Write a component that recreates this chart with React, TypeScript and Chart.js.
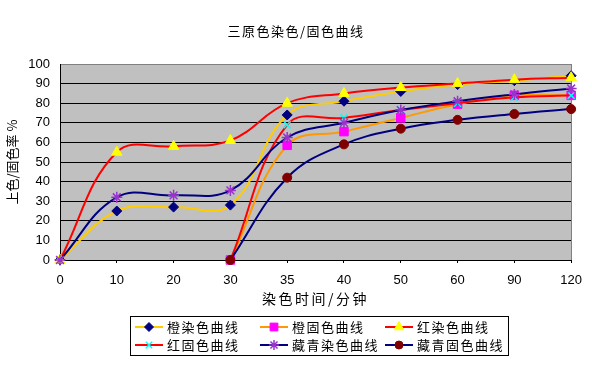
import React, { useEffect, useRef } from 'react';
import { Chart, registerables } from 'chart.js';
import { drawPoint } from 'chart.js/helpers';

Chart.register(...registerables);

const chartTitle = '三原色染色/固色曲线';
const xTitle = '染色时间/分钟';
const yTitle = '上色/固色率 %';

const categories = ['0', '10', '20', '30', '35', '40', '50', '60', '90', '120'];

const orangeDye = [0, 25, 27, 28, 74, 81, 86, 89.5, 91.5, 94];
const orangeFix = [null, null, null, 0, 58.5, 65.5, 72.5, 79.5, 84, 84];
const redDye = [0, 55, 58, 61, 80, 85, 88, 90, 92, 93];
const redFix = [null, null, null, 0, 69, 72.5, 76.5, 80, 83, 84];
const navyDye = [0, 32, 33, 35.5, 62.5, 70, 76.5, 81, 84.5, 87.5];
const navyFix = [null, null, null, 0, 42, 59, 67, 71.5, 74.5, 77];

const yTicksMin = 0;
const yTicksMax = 100;
const yStep = 10;

const CJK = '"Noto Sans CJK SC", "Noto Sans", sans-serif';
const LATIN = '"Liberation Sans", Arial, sans-serif';

function makeSeries(label: string, data: (number | null)[], line: string, style: string, fill: string, border: string, radius: number, bw: number, i: number) {
  return {
    label,
    data,
    borderColor: line,
    backgroundColor: line,
    borderWidth: 2,
    tension: 0.4,
    pointStyle: style,
    pointRadius: radius,
    pointHoverRadius: radius,
    pointBackgroundColor: fill,
    pointBorderColor: border,
    pointBorderWidth: bw,
    clip: false,
    order: 10 - i,
  };
}

const decorPlugin = {
  id: 'decor',
  beforeDraw(chart: any) {
    const { ctx, chartArea, width, height } = chart;
    ctx.save();
    ctx.fillStyle = '#ffffff';
    ctx.fillRect(0, 0, width, height);
    ctx.fillStyle = '#C0C0C0';
    ctx.fillRect(chartArea.left, chartArea.top, chartArea.right - chartArea.left, chartArea.bottom - chartArea.top);
    ctx.restore();
  },
  beforeDatasetsDraw(chart: any) {
    const { ctx, chartArea } = chart;
    ctx.save();
    ctx.strokeStyle = '#808080';
    ctx.lineWidth = 1;
    ctx.beginPath();
    ctx.moveTo(Math.round(chartArea.right) + 0.5, chartArea.top);
    ctx.lineTo(Math.round(chartArea.right) + 0.5, chartArea.bottom);
    ctx.stroke();
    ctx.restore();
  },
  afterDraw(chart: any) {
    const { ctx, chartArea } = chart;
    ctx.save();
    ctx.fillStyle = '#000';
    ctx.textBaseline = 'middle';
    ctx.font = `13px ${CJK}`;
    (ctx as any).letterSpacing = '1.5px';
    ctx.textAlign = 'center';
    ctx.fillText(chartTitle, 296, 31);
    ctx.font = `14px ${CJK}`;
    (ctx as any).letterSpacing = '2.5px';
    ctx.fillText(xTitle, (chartArea.left + chartArea.right) / 2, 299);
    ctx.save();
    ctx.font = `13px ${CJK}`;
    (ctx as any).letterSpacing = '0px';
    ctx.translate(12, (chartArea.top + chartArea.bottom) / 2);
    ctx.rotate(-Math.PI / 2);
    ctx.fillText(yTitle, 0, 0);
    ctx.restore();

    const bx = 130.5, by = 316.5, bw = 378, bh = 39;
    ctx.fillStyle = '#ffffff';
    ctx.fillRect(bx, by, bw, bh);
    ctx.strokeStyle = '#000';
    ctx.lineWidth = 1;
    ctx.strokeRect(bx, by, bw, bh);
    const cols = [135, 260, 385];
    const rows = [327, 345];
    chart.data.datasets.forEach((ds: any, i: number) => {
      const x = cols[i % 3];
      const y = rows[Math.floor(i / 3)];
      ctx.strokeStyle = ds.borderColor;
      ctx.lineWidth = 2;
      ctx.beginPath();
      ctx.moveTo(x, y);
      ctx.lineTo(x + 28, y);
      ctx.stroke();
      ctx.fillStyle = ds.pointBackgroundColor;
      ctx.strokeStyle = ds.pointBorderColor;
      ctx.lineWidth = ds.pointBorderWidth;
      drawPoint(ctx, { pointStyle: ds.pointStyle, radius: ds.pointRadius - 0.5, borderWidth: ds.pointBorderWidth, rotation: 0 } as any, x + 14, y);
      ctx.fillStyle = '#000';
      ctx.font = `13px ${CJK}`;
      (ctx as any).letterSpacing = '1.5px';
      ctx.textAlign = 'left';
      ctx.fillText(ds.label, x + 32, y);
    });
    ctx.restore();
  },
};

export default function App() {
  const ref = useRef<HTMLCanvasElement | null>(null);
  useEffect(() => {
    if (!ref.current) return;
    const chart = new Chart(ref.current, {
      type: 'line',
      data: {
        labels: categories,
        datasets: [
          makeSeries('橙染色曲线', orangeDye, '#FFCC00', 'rectRot', '#000080', '#000080', 5, 1, 0),
          makeSeries('橙固色曲线', orangeFix, '#FF9900', 'rect', '#FF00FF', '#FF00FF', 6, 1, 1),
          makeSeries('红染色曲线', redDye, '#FF0000', 'triangle', '#FFFF00', '#FFFF00', 6, 1, 2),
          makeSeries('红固色曲线', redFix, '#FF0000', 'crossRot', '#00FFFF', '#00FFFF', 5, 1.5, 3),
          makeSeries('藏青染色曲线', navyDye, '#000080', 'star', '#9933CC', '#9933CC', 5.5, 1.5, 4),
          makeSeries('藏青固色曲线', navyFix, '#000080', 'circle', '#800000', '#800000', 4.5, 1, 5),
        ] as any,
      },
      options: {
        responsive: false,
        animation: false,
        devicePixelRatio: 1,
        layout: { padding: { top: 64, left: 0, right: 14, bottom: 0 } },
        plugins: {
          legend: { display: false },
          title: { display: false },
          tooltip: { enabled: false },
        },
        scales: {
          x: {
            type: 'category',
            offset: false,
            afterFit: (s: any) => { s.height = 107; },
            grid: { drawOnChartArea: false, drawTicks: true, tickLength: 3, color: '#000' },
            border: { color: '#000', width: 1 },
            ticks: { color: '#000', font: { family: LATIN, size: 13 }, padding: 10, maxRotation: 0, autoSkip: false },
          },
          y: {
            min: yTicksMin,
            max: yTicksMax,
            afterFit: (s: any) => { s.width = 60; },
            grid: {
              drawTicks: false,
              color: (c: any) => (c.tick && c.tick.value === yTicksMax ? '#808080' : '#000'),
            },
            border: { color: '#000', width: 1 },
            ticks: { stepSize: yStep, color: '#000', font: { family: LATIN, size: 13 }, padding: 10 },
          },
        },
      },
      plugins: [decorPlugin],
    });
    return () => chart.destroy();
  }, []);
  return (
    <div style={{ position: 'absolute', left: 0, top: 0 }}>
      <canvas ref={ref} width={592} height={367} style={{ display: 'block' }} />
    </div>
  );
}
